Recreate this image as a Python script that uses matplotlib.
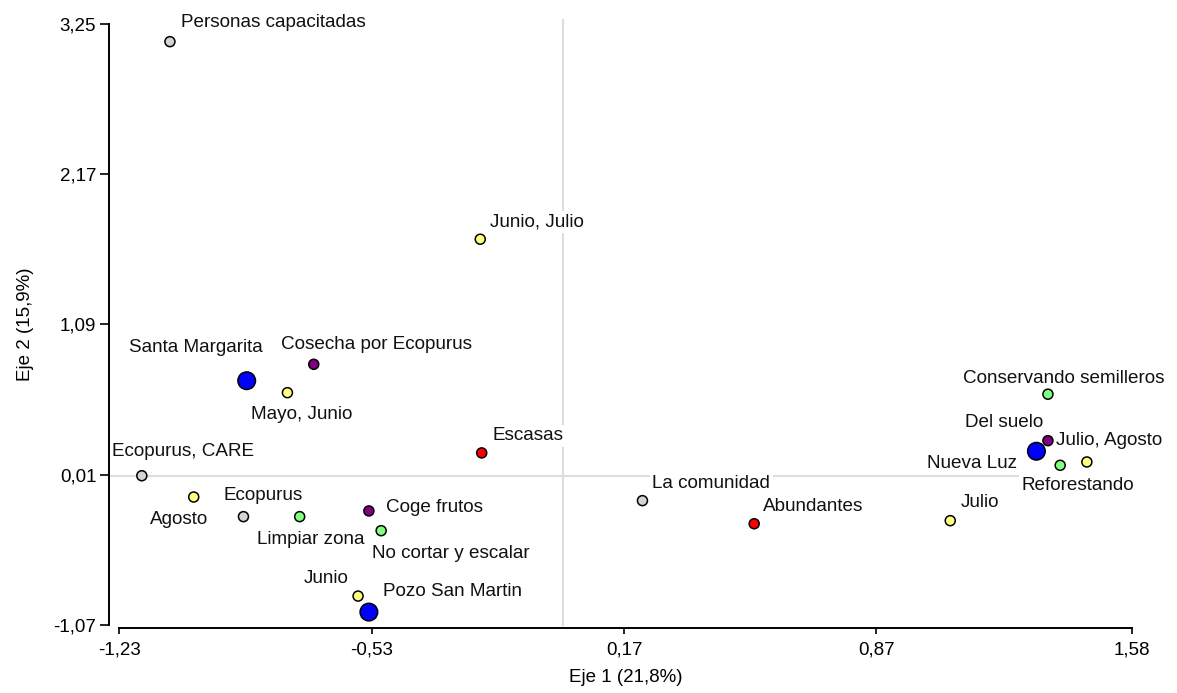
import numpy as np
from matplotlib import pyplot as plt

# point labels, coordinates on the two axes and their group
labels = ["Personas capacitadas", "Junio, Julio", "Santa Margarita", "Cosecha por Ecopurus",
          "Mayo, Junio", "Escasas", "Ecopurus, CARE", "Agosto", "Ecopurus", "Limpiar zona",
          "Coge frutos", "No cortar y escalar", "Junio", "Pozo San Martin", "La comunidad",
          "Abundantes", "Conservando semilleros", "Del suelo", "Nueva Luz", "Reforestando",
          "Julio, Agosto", "Julio"]
eje1 = [-1.090, -0.229, -0.877, -0.691, -0.764, -0.225, -1.168, -1.024, -0.886, -0.730,
        -0.538, -0.504, -0.568, -0.538, 0.221, 0.531, 1.346, 1.346, 1.314, 1.380,
        1.454, 1.075]
eje2 = [3.123, 1.703, 0.686, 0.804, 0.600, 0.167, 0.003, -0.150, -0.291, -0.291,
        -0.250, -0.392, -0.862, -0.977, -0.176, -0.342, 0.589, 0.255, 0.179, 0.078,
        0.102, -0.320]
grupo = ["quien", "mes", "sitio", "modo", "mes", "cantidad", "quien", "mes", "quien", "accion",
         "modo", "accion", "mes", "sitio", "quien", "cantidad", "accion", "modo", "sitio", "accion",
         "mes", "mes"]

xticks = [-1.23, -0.53, 0.17, 0.87, 1.58]
yticks = [-1.07, 0.01, 1.09, 2.17, 3.25]

colores = {"quien": "#d4d4d4", "mes": "#ffff80", "sitio": "#0000ff", "modo": "#800080",
           "cantidad": "#ff0000", "accion": "#80ff80"}

# label offsets in pixels (dx, dy) and horizontal alignment
offs = [(11, 19, "left"), (10, 17, "left"), (16, 33, "right"), (-33, 20, "left"),
        (-36, -22, "left"), (11, 17, "left"), (-30, 24, "left"), (15, -22, "right"),
        (-20, 21, "left"), (-43, -23, "left"), (17, 3, "left"), (-9, -23, "left"),
        (-9, 18, "right"), (14, 21, "left"), (10, 17, "left"), (9, 17, "left"),
        (16, 16, "center"), (-5, 18, "right"), (-19, -12, "right"), (-39, -20, "left"),
        (-31, 21, "left"), (10, 18, "left")]

plt.rcParams['font.family'] = ['Liberation Sans', 'DejaVu Sans']

fig = plt.figure(figsize=(11.77, 6.93), dpi=100)
ax = fig.add_axes([0.1015, 0.0981, 0.8605, 0.8673])

ax.axvline(0, ymax=1.007, color="#dddddd", lw=1.5, zorder=1, clip_on=False)
ax.axhline(0, xmin=-0.01, color="#dddddd", lw=1.5, zorder=1, clip_on=False)

x = np.array(eje1)
y = np.array(eje2)
cols = [colores[g] for g in grupo]
sizes = [160 if g == "sitio" else 52 for g in grupo]
ax.scatter(x, y, s=sizes, c=cols, edgecolors="black", linewidths=1.1, zorder=4)

for i, lab in enumerate(labels):
    dx, dy, ha = offs[i]
    ax.annotate(lab, (x[i], y[i]), xytext=(dx, dy), textcoords="offset pixels",
                ha=ha, va="center", fontsize=13.6, color="#111111", zorder=2,
                bbox=dict(fc="white", ec="none", pad=1.8))

ax.set_xlim(-1.23, 1.58)
ax.set_ylim(-1.07, 3.25)
ax.set_xticks(xticks)
ax.set_xticklabels([f"{v:.2f}".replace(".", ",") for v in xticks])
ax.set_yticks(yticks)
ax.set_yticklabels([f"{v:.2f}".replace(".", ",") for v in yticks])
ax.tick_params(axis="x", length=4.5, width=1.2, labelsize=13.5, pad=5)
ax.tick_params(axis="y", length=6.5, width=1.2, labelsize=13.5, pad=3)

for s in ["top", "right"]:
    ax.spines[s].set_visible(False)
ax.spines["left"].set_position(("outward", 7.2))
ax.spines["bottom"].set_position(("outward", 2.2))
ax.spines["left"].set_linewidth(1.4)
ax.spines["bottom"].set_linewidth(1.4)

ax.set_xlabel("Eje 1 (21,8%)", fontsize=13.5, labelpad=8)
ax.set_ylabel("Eje 2 (15,9%)", fontsize=13.5, labelpad=14)

fig.savefig("out.png", dpi=100)
